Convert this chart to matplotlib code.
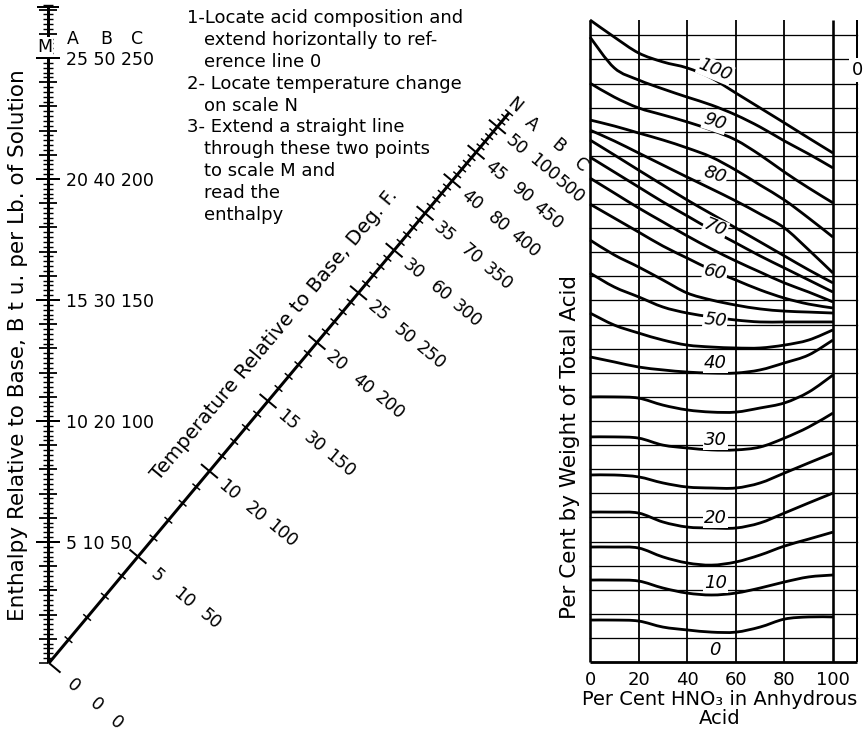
import numpy as np
import matplotlib
matplotlib.use("Agg")
import matplotlib.pyplot as plt
from matplotlib.path import Path
from matplotlib.patches import PathPatch
from matplotlib.collections import LineCollection

plt.rcParams['font.family'] = ['DejaVu Sans']

# ======================= DATA =======================
# Scale M : enthalpy relative to base (readings for columns A, B, C)
m_values_a = [5, 10, 15, 20, 25]
m_values_b = [10, 20, 30, 40, 50]
m_values_c = [50, 100, 150, 200, 250]
m_scale_max = 27.1
m_headers = ["A", "B", "C"]

# Scale N : temperature relative to base, Deg. F. (columns A, B, C)
n_values_a = [0, 5, 10, 15, 20, 25, 30, 35, 40, 45, 50]
n_values_b = [0, 10, 20, 30, 40, 50, 60, 70, 80, 90, 100]
n_values_c = [0, 50, 100, 150, 200, 250, 300, 350, 400, 450, 500]
n_scale_max = 53
n_headers = ["A", "B", "C"]

instructions = [
    ("1-Locate acid composition and", True),
    ("extend horizontally to ref-", False),
    ("erence line 0", False),
    ("2- Locate temperature change", True),
    ("on scale N", False),
    ("3- Extend a straight line", True),
    ("through these two points", False),
    ("to scale M and", False),
    ("read the", False),
    ("enthalpy", False),
]

# Right chart: x = per cent HNO3 in anhydrous acid, y = position in grid rows
pct_hno3 = [0, 10, 20, 30, 40, 50, 60, 70, 80, 90, 100]
x_ticks = [0, 20, 40, 60, 80, 100]
n_grid_rows = 26

acid_0 = [0.00, 0.00, 0.00, 0.00, 0.00, 0.00, 0.00, 0.00, 0.00, 0.00, 0.00]
acid_5 = [1.74, 1.74, 1.70, 1.45, 1.33, 1.24, 1.24, 1.45, 1.78, 1.87, 1.87]
acid_10 = [3.40, 3.40, 3.36, 3.07, 2.86, 2.78, 2.86, 3.07, 3.32, 3.53, 3.61]
acid_15 = [4.77, 4.77, 4.73, 4.36, 4.11, 4.02, 4.15, 4.44, 4.81, 5.10, 5.39]
acid_20 = [6.22, 6.22, 6.18, 5.81, 5.60, 5.56, 5.56, 5.77, 6.18, 6.60, 7.01]
acid_25 = [7.76, 7.76, 7.68, 7.43, 7.26, 7.22, 7.22, 7.43, 7.84, 8.26, 8.67]
acid_30 = [9.34, 9.34, 9.29, 9.00, 8.88, 8.80, 8.80, 8.92, 9.29, 9.75, 10.33]
acid_35 = [11.00, 11.00, 10.95, 10.66, 10.46, 10.37, 10.37, 10.54, 10.75, 11.20, 11.91]
acid_40 = [12.66, 12.45, 12.24, 12.12, 12.03, 11.99, 11.99, 12.12, 12.41, 12.74, 13.36]
acid_45 = [14.48, 13.98, 13.65, 13.36, 13.15, 13.07, 13.03, 13.03, 13.15, 13.36, 13.78]
acid_50 = [16.14, 15.56, 15.15, 14.73, 14.48, 14.32, 14.19, 14.11, 14.11, 14.11, 14.11]
acid_55 = [17.51, 16.89, 16.39, 15.85, 15.31, 15.02, 14.81, 14.65, 14.56, 14.52, 14.48]
acid_60 = [19.00, 18.42, 17.84, 17.26, 16.76, 16.27, 15.85, 15.44, 15.10, 14.85, 14.69]
acid_65 = [20.08, 19.46, 18.84, 18.26, 17.68, 17.14, 16.64, 16.18, 15.73, 15.35, 14.94]
acid_70 = [20.95, 20.33, 19.71, 19.09, 18.51, 17.93, 17.39, 16.85, 16.35, 15.85, 15.35]
acid_75 = [21.66, 21.04, 20.41, 19.79, 19.17, 18.59, 18.01, 17.43, 16.85, 16.27, 15.73]
acid_80 = [22.07, 21.62, 21.12, 20.62, 20.12, 19.63, 19.13, 18.59, 18.01, 17.10, 16.14]
acid_85 = [22.49, 22.24, 21.95, 21.66, 21.33, 20.95, 20.41, 19.79, 19.17, 18.42, 17.63]
acid_90 = [24.02, 23.44, 22.99, 22.70, 22.41, 22.07, 21.66, 21.04, 20.33, 19.67, 19.05]
acid_95 = [25.93, 24.65, 24.15, 23.78, 23.44, 23.11, 22.70, 22.20, 21.62, 21.08, 20.50]
acid_100 = [26.64, 25.93, 25.27, 24.90, 24.65, 24.23, 23.61, 22.99, 22.37, 21.74, 21.12]

acid_levels = [0, 5, 10, 15, 20, 25, 30, 35, 40, 45, 50,
               55, 60, 65, 70, 75, 80, 85, 90, 95, 100]
acid_curves = [acid_0, acid_5, acid_10, acid_15, acid_20, acid_25, acid_30,
               acid_35, acid_40, acid_45, acid_50, acid_55, acid_60, acid_65,
               acid_70, acid_75, acid_80, acid_85, acid_90, acid_95, acid_100]
labelled_levels = [0, 10, 20, 30, 40, 50, 60, 70, 80, 90, 100]

# ======================= LAYOUT =======================
FIG_W, FIG_H = 864, 732
DPI = 100
LW = 0.72  # points per pixel

M_X = 48.0
BASE_Y = 663.0
M_PX = 24.2            # pixels per unit of M
N_ORIGIN = (49.0, 663.0)
N_MOD, N_C = 1268.0, 40.7   # projective modulus of scale N
N_ANGLE = 50.1
ux, uy = np.cos(np.radians(N_ANGLE)), -np.sin(np.radians(N_ANGLE))
px_, py_ = -uy, ux     # perpendicular pointing lower-right (screen)

fig = plt.figure(figsize=(FIG_W / DPI, FIG_H / DPI), dpi=DPI)
fig.patch.set_facecolor('white')

ax0 = fig.add_axes([0, 0, 1, 1])
ax0.set_xlim(0, FIG_W)
ax0.set_ylim(FIG_H, 0)
ax0.axis('off')

FS = 12.5


def m_y(v):
    return BASE_Y - M_PX * v


def n_pt(v, along=0.0, perp=0.0):
    d = N_MOD * v / (v + N_C) + along
    return (N_ORIGIN[0] + ux * d + px_ * perp, N_ORIGIN[1] + uy * d + py_ * perp)


# ---- scale M ----
ax0.plot([M_X, M_X], [m_y(0), m_y(m_scale_max)], color='black', lw=3 * LW,
         solid_capstyle='butt')
segs, widths = [], []
for k in range(0, int(round(m_scale_max * 5)) + 1):
    v = k / 5.0
    y = m_y(v)
    if k == 0:
        segs.append([(M_X - 9, y), (M_X, y)]); widths.append(1.6 * LW)
        continue
    if k % 25 == 0:
        h = 12
        w = 2.0
    elif k % 5 == 0:
        h = 9
        w = 1.8
    else:
        h = 5
        w = 1.4
    segs.append([(M_X - h, y), (M_X + h, y)]); widths.append(w * LW)
segs.append([(M_X - 11, m_y(m_scale_max)), (M_X + 11, m_y(m_scale_max))])
widths.append(2.0 * LW)
ax0.add_collection(LineCollection(segs, colors='black', linewidths=widths))

ax0.text(M_X - 3, m_y(m_scale_max) + 40, "M", fontsize=12.5, ha='center', va='center',
         bbox=dict(boxstyle='square,pad=0.05', fc='white', ec='none'))
for a, b, c in zip(m_values_a, m_values_b, m_values_c):
    ax0.text(M_X + 18, m_y(a) + 2, f"{a} {b} {c}", fontsize=FS, ha='left', va='center')
for hdr, hx in zip(m_headers, [73, 106, 137]):
    ax0.text(hx, m_y(m_values_a[-1]) - 19, hdr, fontsize=FS, ha='center', va='center')

# ---- scale N ----
x0, y0 = n_pt(0)
x1, y1 = n_pt(n_scale_max)
ax0.plot([x0, x1], [y0, y1], color='black', lw=3 * LW, solid_capstyle='butt')
segs, widths = [], []
for v in range(0, n_scale_max + 1):
    if v == 0:
        segs.append([n_pt(0, perp=0), n_pt(0, perp=15)]); widths.append(2.0 * LW)
        continue
    if v % 5 == 0:
        h, w = 11, 2.0
    else:
        h, w = 5, 1.5
    segs.append([n_pt(v, perp=-h), n_pt(v, perp=h)]); widths.append(w * LW)
ax0.add_collection(LineCollection(segs, colors='black', linewidths=widths))

label_offsets = [27, 62, 96]
zero_offsets = [33, 63, 90]
for a, b, c in zip(n_values_a, n_values_b, n_values_c):
    offs = zero_offsets if a == 0 else label_offsets
    for txt, off in zip([a, b, c], offs):
        tx, ty = n_pt(a, along=-2, perp=off)
        ax0.text(tx, ty, str(txt), fontsize=FS, rotation=-(90 - N_ANGLE),
                 ha='center', va='center', rotation_mode='anchor')
tx, ty = n_pt(n_scale_max, along=9)
ax0.text(tx, ty, "N", fontsize=FS, rotation=-(90 - N_ANGLE), ha='center', va='center',
         rotation_mode='anchor')
for hdr, off in zip(n_headers, [25, 59, 88]):
    tx, ty = n_pt(n_scale_max, along=6, perp=off)
    ax0.text(tx, ty, hdr, fontsize=FS, rotation=-(90 - N_ANGLE), ha='center',
             va='center', rotation_mode='anchor')

tx, ty = n_pt(18.5, perp=-37)
ax0.text(tx, ty, "Temperature Relative to Base, Deg. F.", fontsize=14.3,
         rotation=N_ANGLE, ha='center', va='center', rotation_mode='anchor')

# ---- axis title of M ----
ax0.text(18, 345, "Enthalpy Relative to Base, B t u. per Lb. of Solution",
         fontsize=15.5, rotation=90, ha='center', va='center')

# ---- instructions ----
for i, (line, numbered) in enumerate(instructions):
    ax0.text(187 if numbered else 204, 18 + 21.9 * i, line, fontsize=13,
             ha='left', va='center')

# ======================= RIGHT CHART =======================
X_PX0, X_PX_PER = 590.0, 2.43
Y_PX0, Y_PX_PER = 662.0, 24.1
L_PX, R_PX, T_PX, B_PX = 585, 862, 15, 665
ax = fig.add_axes([L_PX / FIG_W, (FIG_H - B_PX) / FIG_H,
                   (R_PX - L_PX) / FIG_W, (B_PX - T_PX) / FIG_H])
ax.set_facecolor('none')
ax.set_xlim((L_PX - X_PX0) / X_PX_PER, (R_PX - X_PX0) / X_PX_PER)
ax.set_ylim((Y_PX0 - B_PX) / Y_PX_PER, (Y_PX0 - T_PX) / Y_PX_PER)
for s in ax.spines.values():
    s.set_visible(False)

x_ref = 110          # reference line 0
y_top = 26.64
for r in range(1, n_grid_rows + 1):
    ax.plot([0, x_ref], [r, r], color='black', lw=1.3 * LW, zorder=1)
for xv in x_ticks:
    w = 2.6 if xv in (0, 100) else 1.8
    ax.plot([xv, xv], [0, y_top], color='black', lw=w * LW, zorder=1,
            solid_capstyle='butt')
ax.plot([x_ref, x_ref], [0, y_top], color='black', lw=2.0 * LW, zorder=1,
        solid_capstyle='butt')


def smooth_path(xs, ys):
    pts = np.column_stack([xs, ys]).astype(float)
    verts = [pts[0]]
    codes = [Path.MOVETO]
    n = len(pts)
    for i in range(n - 1):
        p0 = pts[i - 1] if i > 0 else pts[i]
        p1, p2 = pts[i], pts[i + 1]
        p3 = pts[i + 2] if i + 2 < n else pts[i + 1]
        verts += [p1 + (p2 - p0) / 6.0, p2 - (p3 - p1) / 6.0, p2]
        codes += [Path.CURVE4] * 3
    return Path(verts, codes)


for lvl, ys in zip(acid_levels, acid_curves):
    if lvl == 0:
        ax.plot([0, x_ref], [ys[0], ys[-1]], color='black', lw=2.8 * LW,
                solid_capstyle='butt', zorder=3)
        continue
    ax.add_patch(PathPatch(smooth_path(pct_hno3, ys), fill=False, ec='black',
                           lw=2.8 * LW, capstyle='butt', joinstyle='round', zorder=3))

label_y = [0.50, 3.28, 5.98, 9.21, 12.41, 14.19, 16.18, 18.01, 20.21, 22.41, 24.56]
label_rot = [0, 0, 0, 0, 0, -6, -12, -22, -18, -18, -22]
for lvl, ly, rot in zip(labelled_levels, label_y, label_rot):
    ax.text(51.5, ly, str(lvl), fontsize=13, style='italic', ha='center', va='center',
            rotation=rot, zorder=5,
            bbox=dict(boxstyle='square,pad=0.05', fc='white', ec='none'))
ax.text(x_ref, 24.56, "0", fontsize=13, ha='center', va='center', zorder=5,
        bbox=dict(boxstyle='square,pad=0.15', fc='white', ec='none'))

ax.set_xticks(x_ticks)
ax.set_xticklabels([str(v) for v in x_ticks], fontsize=13)
ax.tick_params(axis='x', length=0, pad=4)
ax.set_yticks([])

fig.text(720 / FIG_W, 1 - 709 / FIG_H, "Per Cent HNO\u2083 in Anhydrous\nAcid",
         fontsize=14, ha='center', va='center', linespacing=1.05)
fig.text(570 / FIG_W, 1 - 447 / FIG_H, "Per Cent by Weight of Total Acid",
         fontsize=15.5, rotation=90, ha='center', va='center')

fig.savefig("out.png", dpi=DPI, facecolor='white')
